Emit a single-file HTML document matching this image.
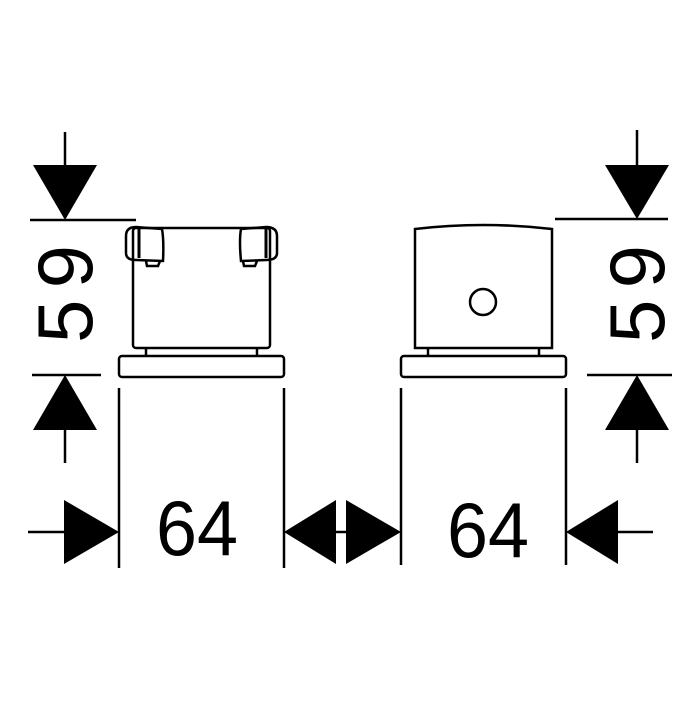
<!DOCTYPE html>
<html><head><style>html,body{margin:0;padding:0;background:#fff}</style></head>
<body>
<svg width="700" height="700" viewBox="0 0 700 700" xmlns="http://www.w3.org/2000/svg">
<g stroke="#000" stroke-width="2.5" fill="none">
<!-- left vertical dim -->
<line x1="65" y1="132" x2="65" y2="170"/>
<line x1="30" y1="220" x2="136" y2="220"/>
<line x1="32" y1="375" x2="101" y2="375"/>
<line x1="65" y1="430" x2="65" y2="463"/>
<!-- right vertical dim -->
<line x1="637" y1="130" x2="637" y2="170"/>
<line x1="555" y1="219" x2="668" y2="219"/>
<line x1="587" y1="375" x2="672" y2="375"/>
<line x1="637" y1="430" x2="637" y2="463"/>
<!-- extension lines -->
<line x1="119" y1="388" x2="119" y2="568"/>
<line x1="284" y1="388" x2="284" y2="568"/>
<line x1="401" y1="388" x2="401" y2="565"/>
<line x1="566" y1="388" x2="566" y2="565"/>
<!-- horizontal dims -->
<line x1="28" y1="532" x2="66" y2="532"/>
<line x1="334" y1="532" x2="350" y2="532"/>
<line x1="616" y1="532" x2="653" y2="532"/>
<!-- left body -->
<rect x="133" y="228" width="137" height="120" rx="3"/>
<rect x="119" y="356" width="165" height="21" rx="3"/>
<line x1="146" y1="348" x2="146" y2="356"/>
<line x1="257" y1="348" x2="257" y2="356"/>
<path d="M136 227 Q126 227 126 236 L126 253 Q126 260 136 260 L163 261 Q164 240 162 229 Z"/>
<path d="M266 227 Q277 227 277 236 L277 253 Q277 260 266 260 L241 261 Q239 240 241 229 Z"/>
<path d="M146 261 L147 266 L158 266 L160 261"/>
<path d="M243 261 L244 266 L255 266 L257 261"/>
<line x1="139" y1="229" x2="139" y2="258" stroke-width="3"/>
<line x1="266" y1="229" x2="266" y2="258" stroke-width="3"/>
<!-- right body -->
<path d="M415 229 Q483 221 552 229 L552 348 L415 348 Z"/>
<rect x="401" y="356" width="165" height="21" rx="3"/>
<line x1="428" y1="348" x2="428" y2="356"/>
<line x1="539" y1="348" x2="539" y2="356"/>
<circle cx="483" cy="302" r="13"/>
</g>
<g fill="#000">
<polygon points="33,165 97,165 65,220"/>
<polygon points="33,430 97,430 65,375"/>
<polygon points="605,165 669,165 637,219"/>
<polygon points="605,430 669,430 637,375"/>
<polygon points="64,500 64,564 119,532"/>
<polygon points="336,500 336,564 284,532"/>
<polygon points="346,500 346,564 401,532"/>
<polygon points="618,500 618,564 566,532"/>
</g>
<g font-family="Liberation Sans, sans-serif" font-size="78" fill="#000">
<text x="156" y="555" textLength="82" lengthAdjust="spacingAndGlyphs">64</text>
<text x="447" y="557" textLength="82" lengthAdjust="spacingAndGlyphs">64</text>
<text transform="translate(92,343) rotate(-90)" textLength="98" lengthAdjust="spacing">59</text>
<text transform="translate(664,343) rotate(-90)" textLength="98" lengthAdjust="spacing">59</text>
</g>
</svg>
</body></html>
